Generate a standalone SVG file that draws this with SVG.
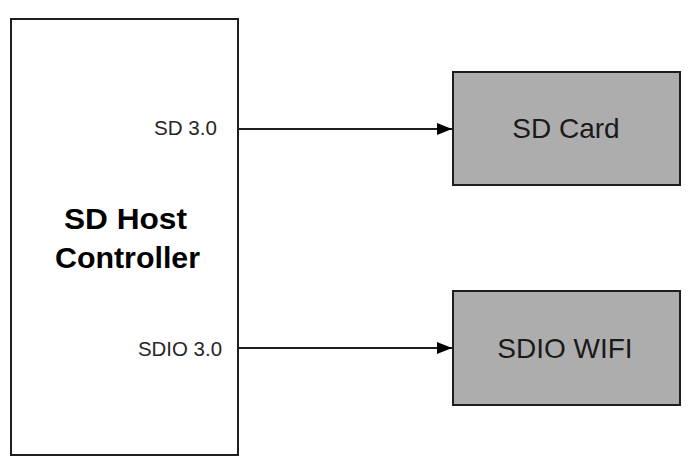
<svg xmlns="http://www.w3.org/2000/svg" width="695" height="474" viewBox="0 0 695 474">
<defs>
<style>
.box{stroke:#1e1e1e;stroke-width:2}
.host{fill:#ffffff}
.dev{fill:#adadad}
.t{font-family:"Liberation Sans",Arial,sans-serif;fill:#1a1a1a}
.lbl{font-size:20.5px;text-anchor:end;fill:#262626}
.big{font-size:28px;text-anchor:middle}
.title{font-size:29px;font-weight:bold;text-anchor:middle;fill:#000}
.conn{stroke:#1e1e1e;stroke-width:2;fill:none}
</style>
<marker id="arr" markerWidth="16" markerHeight="12" refX="15" refY="6" orient="auto" markerUnits="userSpaceOnUse">
<path d="M0,0 L15,6 L0,12 Z" fill="#000"/>
</marker>
</defs>
<g id="host">
<rect class="box host" x="11" y="19" width="227" height="436"/>
<text class="t title" x="125.5" y="229" textLength="123" lengthAdjust="spacingAndGlyphs">SD Host</text>
<text class="t title" x="127.5" y="268" textLength="145" lengthAdjust="spacingAndGlyphs">Controller</text>
<text class="t lbl" x="217" y="135" textLength="63" lengthAdjust="spacingAndGlyphs">SD 3.0</text>
<text class="t lbl" x="222" y="355.5" textLength="84" lengthAdjust="spacingAndGlyphs">SDIO 3.0</text>
</g>
<g id="sdcard">
<rect class="box dev" x="453" y="72" width="227" height="113"/>
<text class="t big" x="566" y="138">SD Card</text>
</g>
<g id="sdiowifi">
<rect class="box dev" x="453" y="291" width="227" height="114"/>
<text class="t big" x="565" y="358">SDIO WIFI</text>
</g>
<g id="connectors">
<line class="conn" x1="238" y1="129" x2="452" y2="129" marker-end="url(#arr)"/>
<line class="conn" x1="238" y1="348" x2="452" y2="348" marker-end="url(#arr)"/>
</g>
</svg>
